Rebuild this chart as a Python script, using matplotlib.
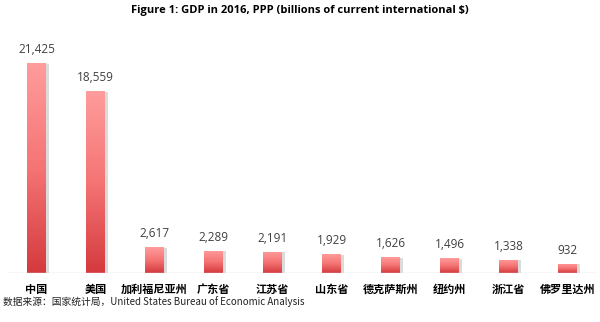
import numpy as np
import matplotlib
matplotlib.use('Agg')
import matplotlib.pyplot as plt
from matplotlib.colors import LinearSegmentedColormap

plt.rcParams['font.family'] = ['Noto Sans CJK SC', 'DejaVu Sans']

# data
regions = ['中国', '美国', '加利福尼亚州', '广东省', '江苏省', '山东省',
           '德克萨斯州', '纽约州', '浙江省', '佛罗里达州']
gdp = [21425, 18559, 2617, 2289, 2191, 1929, 1626, 1496, 1338, 932]

fig = plt.figure(figsize=(6, 3.22), dpi=100)
ax = fig.add_axes([7/600, 49/322, 590/600, 233/322])

x = np.arange(len(regions))
w = 0.31
cmap = LinearSegmentedColormap.from_list('grad', ['#d43a3e', '#f57474', '#ff9c9c'])
grad = np.linspace(0, 1, 256).reshape(-1, 1)

# shadows
for xi, v in zip(x, gdp):
    ax.bar(xi + 0.05, v - 60, width=w, color='#bfbfbf', alpha=0.55, zorder=1)

bars = ax.bar(x, gdp, width=w, color='none', zorder=2)
for b in bars:
    x0, y0, bw, bh = b.get_x(), b.get_y(), b.get_width(), b.get_height()
    im = ax.imshow(grad, cmap=cmap, aspect='auto', origin='lower',
                   extent=[x0, x0 + bw, y0, y0 + bh], zorder=2)
    im.set_clip_path(b)

for xi, v in zip(x, gdp):
    ax.annotate(f'{v:,}', (xi, v), xytext=(0, 5), textcoords='offset points',
                ha='center', va='bottom', fontsize=8.5, color='#404040',
                family=['Open Sans', 'DejaVu Sans'])

ax.set_xlim(-0.5, 9.5)
ax.set_ylim(0, 23800)
ax.axhline(0, color='#d9d9d9', lw=1, zorder=3)
for s in ax.spines.values():
    s.set_visible(False)
ax.set_yticks([])
ax.set_xticks(x)
ax.set_xticklabels(regions, fontsize=8, fontweight='bold')
ax.tick_params(axis='x', length=0, pad=7)

fig.text(0.5, 1 - 10/322, 'Figure 1: GDP in 2016, PPP (billions of current international $)',
         ha='center', va='center', fontsize=8, fontweight='bold',
         family=['Open Sans', 'DejaVu Sans'])
fig.text(3/600, 1 - 302/322, '数据来源：国家统计局，United States Bureau of Economic Analysis',
         ha='left', va='center', fontsize=7, color='#222222')

fig.savefig('out.png', dpi=100)
